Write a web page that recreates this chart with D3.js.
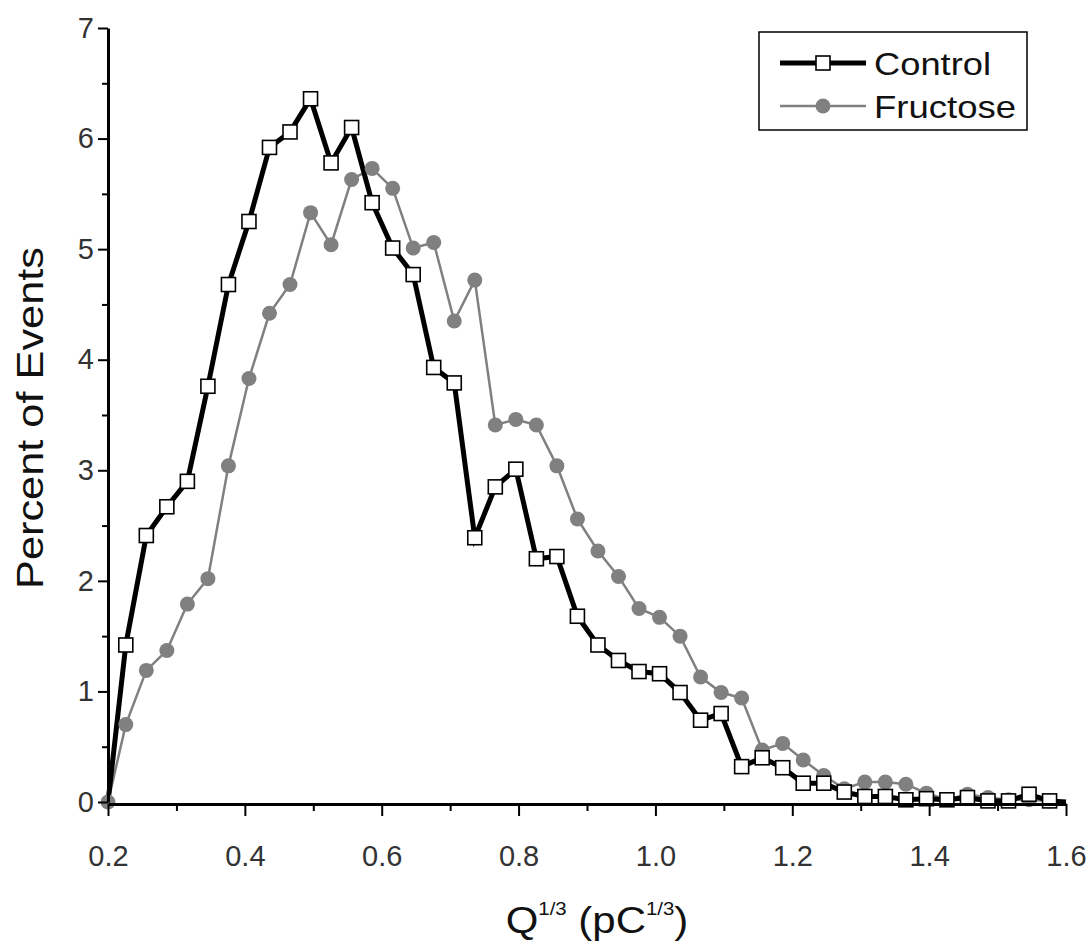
<!DOCTYPE html>
<html>
<head>
<meta charset="utf-8">
<script src="https://cdn.jsdelivr.net/npm/d3@7"></script>
<style>
  html, body { margin: 0; padding: 0; background: #fff; }
  svg { display: block; }
  text { font-family: "Liberation Sans", Arial, sans-serif; }
</style>
</head>
<body>
<svg id="chart" width="1092" height="944"></svg>
<script>
// ---- data ----
const xValues = [0.2, 0.226, 0.256, 0.286, 0.316, 0.346, 0.376, 0.406, 0.436, 0.466, 0.496,
  0.526, 0.556, 0.586, 0.616, 0.646, 0.676, 0.706, 0.736, 0.766, 0.796,
  0.826, 0.856, 0.886, 0.916, 0.946, 0.976, 1.006, 1.036, 1.066, 1.096,
  1.126, 1.156, 1.186, 1.216, 1.246, 1.276, 1.306, 1.336, 1.366, 1.396,
  1.426, 1.456, 1.486, 1.516, 1.546, 1.576, 1.6];
const controlValues = [0, 1.42, 2.41, 2.67, 2.90, 3.76, 4.68, 5.25, 5.92, 6.06, 6.36,
  5.78, 6.10, 5.42, 5.01, 4.77, 3.93, 3.79, 2.39, 2.85, 3.01,
  2.20, 2.22, 1.68, 1.42, 1.28, 1.18, 1.16, 0.99, 0.74, 0.80,
  0.32, 0.40, 0.31, 0.17, 0.17, 0.09, 0.05, 0.05, 0.02, 0.03,
  0.02, 0.04, 0.01, 0.01, 0.07, 0.01, 0];
const fructoseValues = [0, 0.70, 1.19, 1.37, 1.79, 2.02, 3.04, 3.83, 4.42, 4.68, 5.33,
  5.04, 5.63, 5.73, 5.55, 5.01, 5.06, 4.35, 4.72, 3.41, 3.46,
  3.41, 3.04, 2.56, 2.27, 2.04, 1.75, 1.67, 1.50, 1.13, 0.99,
  0.94, 0.47, 0.53, 0.38, 0.24, 0.12, 0.18, 0.18, 0.16, 0.08,
  0.02, 0.07, 0.04, 0.02, 0.02, 0.01, 0];
const xTicks = [0.2, 0.4, 0.6, 0.8, 1.0, 1.2, 1.4, 1.6];
const xMinorTicks = [0.3, 0.5, 0.7, 0.9, 1.1, 1.3, 1.5];
const yTicks = [0, 1, 2, 3, 4, 5, 6, 7];
const yMinorTicks = [0.5, 1.5, 2.5, 3.5, 4.5, 5.5, 6.5];
const seriesNames = ["Control", "Fructose"];

// ---- layout ----
const svg = d3.select("#chart");
const x = d3.scaleLinear().domain([0.2, 1.6]).range([108, 1066]);
const y = d3.scaleLinear().domain([0, 7]).range([802, 28]);
const grayCol = "#808080";
const labelCol = "#333";

const control = xValues.map((v, i) => ({x: v, y: controlValues[i]}));
const fructose = xValues.map((v, i) => ({x: v, y: fructoseValues[i]}));

const line = d3.line().x(d => x(d.x)).y(d => y(d.y));

// fructose line (behind)
svg.append("path").datum(fructose)
  .attr("d", line).attr("fill", "none")
  .attr("stroke", grayCol).attr("stroke-width", 2.5);
// control line
svg.append("path").datum(control)
  .attr("d", line).attr("fill", "none")
  .attr("stroke", "#000").attr("stroke-width", 5).attr("stroke-linejoin", "miter");

// fructose markers
svg.append("g").selectAll("circle").data(fructose.slice(0, -1)).join("circle")
  .attr("cx", d => x(d.x)).attr("cy", d => y(d.y)).attr("r", 7.5)
  .attr("fill", grayCol);
// control markers
svg.append("g").selectAll("rect").data(control.slice(1, -1)).join("rect")
  .attr("x", d => x(d.x) - 7).attr("y", d => y(d.y) - 7)
  .attr("width", 14).attr("height", 14)
  .attr("fill", "#fff").attr("stroke", "#000").attr("stroke-width", 1.6);

// ---- axes ----
const xAxis = svg.append("g").attr("transform", "translate(0,804)")
  .call(d3.axisBottom(x).tickValues(xTicks).tickFormat(d3.format(".1f")).tickSize(12).tickSizeOuter(0));
xAxis.select(".domain").attr("stroke-width", 3);
xAxis.selectAll(".tick line").attr("stroke-width", 2);
xAxis.selectAll(".tick text").attr("font-size", 29).attr("fill", labelCol).attr("dy", 47)
  .attr("font-family", "Liberation Sans, Arial, sans-serif");
svg.append("g").attr("transform", "translate(0,804)")
  .call(d3.axisBottom(x).tickValues(xMinorTicks).tickFormat("").tickSize(7).tickSizeOuter(0))
  .call(g => g.select(".domain").remove())
  .selectAll(".tick line").attr("stroke-width", 2);

const yAxis = svg.append("g").attr("transform", "translate(108,0)")
  .call(d3.axisLeft(y).tickValues(yTicks).tickFormat(d3.format("d")).tickSize(10).tickSizeOuter(0));
yAxis.select(".domain").attr("stroke-width", 3);
yAxis.selectAll(".tick line").attr("stroke-width", 2);
yAxis.selectAll(".tick text").attr("font-size", 29).attr("fill", labelCol).attr("x", -14)
  .attr("font-family", "Liberation Sans, Arial, sans-serif");
svg.append("g").attr("transform", "translate(108,0)")
  .call(d3.axisLeft(y).tickValues(yMinorTicks).tickFormat("").tickSize(6).tickSizeOuter(0))
  .call(g => g.select(".domain").remove())
  .selectAll(".tick line").attr("stroke-width", 2);

// axis titles
svg.append("text").attr("transform", "translate(43,418) rotate(-90)")
  .attr("text-anchor", "middle").attr("font-size", 36).attr("fill", "#111")
  .attr("textLength", 342).attr("lengthAdjust", "spacingAndGlyphs")
  .text("Percent of Events");

const xt = svg.append("text").attr("transform", "translate(597,933) scale(1.2,1.06)")
  .attr("text-anchor", "middle").attr("font-size", 35).attr("fill", "#111");
xt.append("tspan").text("Q");
xt.append("tspan").attr("font-size", 17).attr("dy", -17).text("1/3");
xt.append("tspan").attr("dy", 17).text(" (pC");
xt.append("tspan").attr("font-size", 17).attr("dy", -17).text("1/3");
xt.append("tspan").attr("dy", 17).text(")");

// ---- legend ----
const lg = svg.append("g");
lg.append("rect").attr("x", 759).attr("y", 32).attr("width", 268).attr("height", 98)
  .attr("fill", "#fff").attr("stroke", "#000").attr("stroke-width", 1.5);
const legendRows = [
  {name: seriesNames[0], yy: 63, w: 117},
  {name: seriesNames[1], yy: 106, w: 142}
];
lg.append("line").attr("x1", 780).attr("x2", 866).attr("y1", legendRows[0].yy).attr("y2", legendRows[0].yy)
  .attr("stroke", "#000").attr("stroke-width", 5);
lg.append("rect").attr("x", 816).attr("y", legendRows[0].yy - 7).attr("width", 14).attr("height", 14)
  .attr("fill", "#fff").attr("stroke", "#000").attr("stroke-width", 1.6);
lg.append("line").attr("x1", 780).attr("x2", 866).attr("y1", legendRows[1].yy).attr("y2", legendRows[1].yy)
  .attr("stroke", grayCol).attr("stroke-width", 2.5);
lg.append("circle").attr("cx", 823).attr("cy", legendRows[1].yy).attr("r", 7.5).attr("fill", grayCol);
lg.selectAll("text.leg").data(legendRows).join("text").attr("class", "leg")
  .attr("x", 874).attr("y", d => d.yy + 12).attr("font-size", 32).attr("fill", "#111")
  .attr("textLength", d => d.w).attr("lengthAdjust", "spacingAndGlyphs")
  .text(d => d.name);
</script>
</body>
</html>
